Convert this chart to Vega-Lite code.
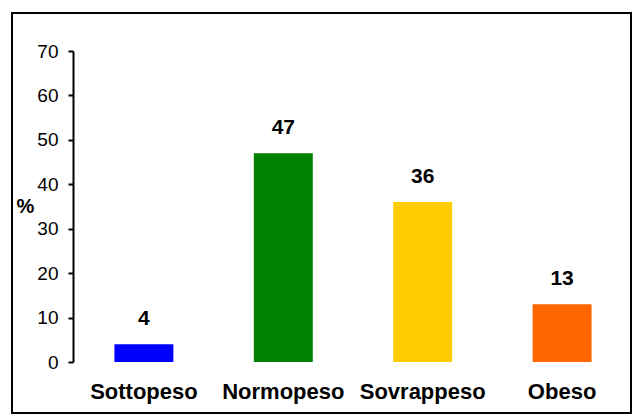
{
  "$schema": "https://vega.github.io/schema/vega-lite/v6.json",
  "width": 619,
  "height": 400,
  "autosize": {"type": "none"},
  "padding": {"left": 12, "top": 13, "right": 6, "bottom": 6},
  "background": "white",
  "config": {
    "view": {"stroke": "black", "strokeWidth": 2, "fill": "white"},
    "font": "Liberation Sans"
  },
  "data": {
    "values": [
      {"categoria": "Sottopeso", "percentuale": 4},
      {"categoria": "Normopeso", "percentuale": 47},
      {"categoria": "Sovrappeso", "percentuale": 36},
      {"categoria": "Obeso", "percentuale": 13}
    ]
  },
  "encoding": {
    "x": {
      "field": "categoria",
      "type": "nominal",
      "sort": null,
      "scale": {"range": [62, 620], "paddingInner": 0.577, "paddingOuter": 0.29},
      "axis": {
        "title": null,
        "domain": false,
        "ticks": false,
        "labelAngle": 0,
        "labelFont": "Liberation Sans",
        "labelFontSize": 22,
        "labelFontWeight": "bold",
        "labelColor": "black",
        "labelPadding": 19,
        "offset": -51
      }
    },
    "y": {
      "field": "percentuale",
      "type": "quantitative",
      "scale": {"domain": [0, 70], "range": [349, 38], "nice": false, "zero": true},
      "axis": {
        "values": [0, 10, 20, 30, 40, 50, 60, 70],
        "grid": false,
        "offset": -61,
        "domainColor": "black",
        "domainWidth": 2,
        "tickColor": "black",
        "tickWidth": 2,
        "tickSize": 5,
        "labelFont": "Liberation Sans",
        "labelFontSize": 19,
        "labelColor": "black",
        "labelPadding": 10,
        "title": "%",
        "titleAngle": 0,
        "titleAlign": "center",
        "titleBaseline": "middle",
        "titleX": -48,
        "titleY": 193,
        "titleFont": "Liberation Sans",
        "titleFontSize": 20,
        "titleFontWeight": "bold",
        "titleColor": "black"
      }
    }
  },
  "layer": [
    {
      "mark": {"type": "bar"},
      "encoding": {
        "color": {
          "field": "categoria",
          "type": "nominal",
          "scale": {
            "domain": ["Sottopeso", "Normopeso", "Sovrappeso", "Obeso"],
            "range": ["#0000FF", "#008000", "#FFCC00", "#FF6600"]
          },
          "legend": null
        }
      }
    },
    {
      "mark": {
        "type": "text",
        "baseline": "alphabetic",
        "dy": -19,
        "font": "Liberation Sans",
        "fontSize": 21,
        "fontWeight": "bold",
        "color": "black"
      },
      "encoding": {"text": {"field": "percentuale", "type": "quantitative"}}
    }
  ]
}
